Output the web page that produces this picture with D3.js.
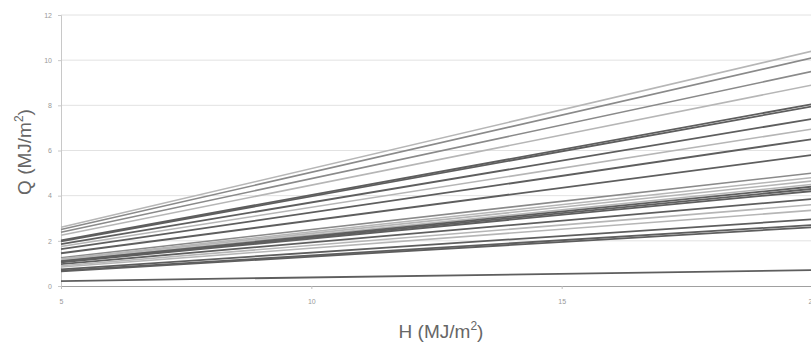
<!DOCTYPE html>
<html>
<head>
<meta charset="utf-8">
<script src="https://cdn.jsdelivr.net/npm/d3@7"></script>
<style>
  body { margin: 0; background: #fff; }
  text { font-family: "Liberation Sans", Arial, sans-serif; }
  .tick text { fill: #999; font-size: 7px; }
</style>
</head>
<body>
<div id="chart"></div>
<script>
// Q at H = 5 and H = 20 for every line
var hValues = [5, 20];
var qAt5 = [2.6, 2.5, 2.38, 2.25, 2.02, 1.98, 1.85, 1.75, 1.63, 1.45, 1.25, 1.2, 1.17, 1.13, 1.1, 1.08, 1.05, 0.97, 0.9, 0.84, 0.74, 0.68, 0.65, 0.22];
var qAt20 = [10.4, 10.1, 9.5, 8.9, 8.05, 7.95, 7.4, 6.95, 6.5, 5.8, 5.0, 4.8, 4.65, 4.5, 4.4, 4.3, 4.2, 3.85, 3.6, 3.35, 2.95, 2.7, 2.6, 0.7];
var shade = ["light", "mid", "mid", "light", "dark", "dark", "dark", "light", "dark", "dark", "mid", "light", "light", "light", "dark", "dark", "dark", "dark", "light", "light", "dark", "dark", "dark", "dark"];
var xTicks = [5, 10, 15, 20];
var yTicks = [0, 2, 4, 6, 8, 10, 12];

var svgWidth = 811;
var svgHeight = 351;

var svg = d3.select("#chart")
  .append("svg")
  .attr("width", svgWidth)
  .attr("height", svgHeight);

var xScale = d3.scaleLinear().domain([5, 20]).range([61, 812]);
var yScale = d3.scaleLinear().domain([0, 12]).range([286, 15]);

// gridlines
svg.append("g")
  .selectAll("line")
  .data(yTicks.filter(d => d > 0))
  .enter()
  .append("line")
  .attr("x1", xScale(5))
  .attr("x2", xScale(20))
  .attr("y1", d => yScale(d))
  .attr("y2", d => yScale(d))
  .attr("stroke", "#e2e2e2")
  .attr("stroke-width", 1);

// axes
var leftAxis = d3.axisLeft(yScale).tickValues(yTicks).tickSize(3).tickPadding(6);
var bottomAxis = d3.axisBottom(xScale).tickValues(xTicks).tickSize(3).tickPadding(10);

var gy = svg.append("g")
  .attr("transform", `translate(${xScale(5)}, 0)`)
  .call(leftAxis);
gy.select(".domain").attr("stroke", "#c8c8c8");
gy.selectAll(".tick line").attr("stroke", "#c8c8c8");

var gx = svg.append("g")
  .attr("transform", `translate(0, ${yScale(0)})`)
  .call(bottomAxis);
gx.select(".domain").attr("stroke", "#a0a0a0");
gx.selectAll(".tick line").attr("stroke", "#c0c0c0");

// lines
var colors = { dark: "#5e5e5e", mid: "#8a8a8a", light: "#b6b6b6" };
var widths = { dark: 1.8, mid: 1.6, light: 1.6 };

var lineData = qAt5.map(function(q, i) {
  return { pts: [[hValues[0], q], [hValues[1], qAt20[i]]], shade: shade[i] };
});

var line = d3.line()
  .x(d => xScale(d[0]))
  .y(d => yScale(d[1]));

svg.append("g")
  .selectAll("path")
  .data(lineData)
  .enter()
  .append("path")
  .attr("d", d => line(d.pts))
  .attr("fill", "none")
  .attr("stroke", d => colors[d.shade])
  .attr("stroke-width", d => widths[d.shade]);

// axis titles
var yTitle = svg.append("text")
  .attr("transform", "translate(31, 152) rotate(-90)")
  .attr("text-anchor", "middle")
  .attr("fill", "#666")
  .attr("font-size", 19);
yTitle.append("tspan").text("Q (MJ/m");
yTitle.append("tspan").attr("font-size", 12).attr("dy", -8).text("2");
yTitle.append("tspan").attr("dy", 8).text(")");

var xTitle = svg.append("text")
  .attr("x", 441)
  .attr("y", 338)
  .attr("text-anchor", "middle")
  .attr("fill", "#666")
  .attr("font-size", 19);
xTitle.append("tspan").text("H (MJ/m");
xTitle.append("tspan").attr("font-size", 12).attr("dy", -8).text("2");
xTitle.append("tspan").attr("dy", 8).text(")");
</script>
</body>
</html>
